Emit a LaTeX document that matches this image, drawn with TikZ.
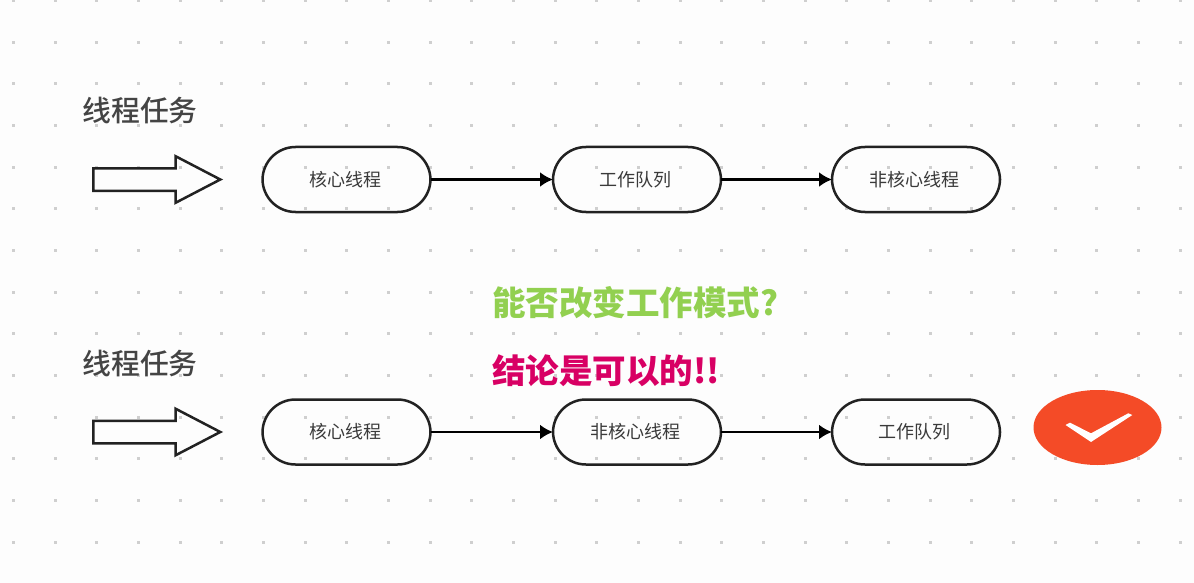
\documentclass[tikz,border=0pt]{standalone}
\usepackage{fontspec}
\usetikzlibrary{shapes.arrows,shapes.geometric,arrows.meta}
\setmainfont{Noto Sans CJK SC}
\newfontfamily\headfont{Noto Sans CJK SC Medium}
\newfontfamily\shoutfont{Noto Sans CJK SC Black}
\definecolor{pagebg}{HTML}{FDFDFD}
\definecolor{griddot}{HTML}{CFCFCF}
\definecolor{inkline}{HTML}{222222}
\definecolor{bodytext}{HTML}{3A3A3A}
\definecolor{headtext}{HTML}{444444}
\definecolor{asktext}{HTML}{92D050}
\definecolor{saytext}{HTML}{D80064}
\definecolor{okred}{HTML}{F44B27}
\tikzset{
  stage/.style={draw=inkline,line width=2.5pt,rounded corners=33pt,minimum width=168pt,minimum height=65pt,inner sep=0pt,outer sep=0pt,font=\fontsize{18}{18}\selectfont,text=bodytext},
  flow/.style={line width=2.5pt,draw=black,-{Latex[length=13pt,width=15pt]}},
  taskarrow/.style={draw=inkline,line width=2.5pt,single arrow,single arrow head extend=12pt,single arrow tip angle=55,single arrow head indent=0pt,text height=20pt,text depth=0pt,minimum height=127pt,inner sep=0pt,outer sep=0pt},
  heading/.style={font=\fontsize{28.8}{29}\selectfont\headfont,text=headtext,inner sep=0pt},
  shout/.style={font=\fontsize{33.5}{34}\selectfont\shoutfont,inner sep=0pt,anchor=west}
}
\begin{document}
\begin{tikzpicture}[x=1pt,y=-1pt]
  \fill[pagebg] (0,0) rectangle (1194,583);
  \useasboundingbox (0,0) rectangle (1194,583);
  \foreach \i in {0,...,28}
    \foreach \j in {0,...,13}
      \fill[griddot] ({13.5+41.67*\i-1.5},{0.5+41.67*\j-1.5}) rectangle +(3,3);

  \node[heading] (task1) at (140,110) {线程任务};
  \node[taskarrow] (in1) at (146,179.5) {};
  \node[stage] (core1) at (346.5,179.5) {\hspace{-3pt}核心线程};
  \node[stage] (queue1) at (637,179.5) {\hspace{-3pt}工作队列};
  \node[stage] (extra1) at (916,179.5) {\hspace{-3pt}非核心线程};

  \node[shout,text=asktext] (ask) at (492,303) {能否改变工作模式?};
  \node[shout,text=saytext] (say) at (492,371) {结论是可以的!!};

  \node[heading] (task2) at (140,363) {线程任务};
  \node[taskarrow] (in2) at (146,432) {};
  \node[stage] (core2) at (346.5,432) {\hspace{-3pt}核心线程};
  \node[stage] (extra2) at (637,432) {\hspace{-3pt}非核心线程};
  \node[stage] (queue2) at (916,432) {\hspace{-3pt}工作队列};
  \node[ellipse,fill=okred,minimum width=128pt,minimum height=75pt,inner sep=0pt] (ok) at (1097.5,427.5) {};
  \fill[white] (1065.5,425) -- (1070,422.7) -- (1091,433.3) -- (1128.3,413.3) -- (1132.3,415) -- (1091,442) -- cycle;

  \draw[flow] (core1) -- (queue1);
  \draw[flow] (queue1) -- (extra1);
  \draw[flow] (core2) -- (extra2);
  \draw[flow] (extra2) -- (queue2);
\end{tikzpicture}
\end{document}
